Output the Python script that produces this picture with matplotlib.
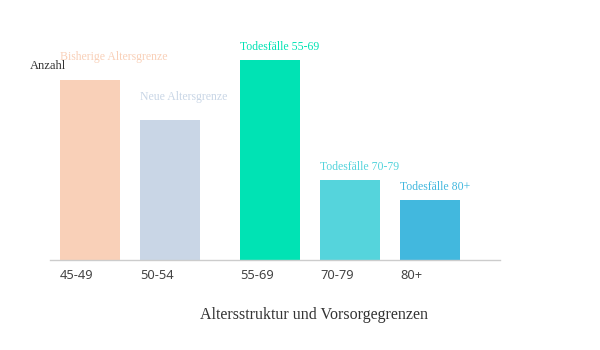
import matplotlib
matplotlib.use("Agg")
import matplotlib.pyplot as plt

# Data
categories = ["45-49", "50-54", "55-69", "70-79", "80+"]
values = [9, 7, 10, 4, 3]
bar_labels = ["Bisherige Altersgrenze", "Neue Altersgrenze",
              "Todesfälle 55-69", "Todesfälle 70-79", "Todesfälle 80+"]
bar_colors = ["#f9d0b8", "#c9d6e6", "#00e3b4", "#55d4dc", "#42b8de"]
label_offset_px = [23, 23, 13, 13, 13]

W, H, DPI = 600, 350, 100
fig = plt.figure(figsize=(W / DPI, H / DPI), dpi=DPI)
fig.patch.set_facecolor("white")

# axes: x from 50px to 500px, baseline at 260px, top at 60px
ax = fig.add_axes([50 / W, (H - 260) / H, 450 / W, 200 / H])
ax.set_facecolor("none")

# positions: extra gap between the two age-limit bars and the death-count bars
pos = [0, 1, 2.25, 3.25, 4.25]
width = 0.75

ax.bar(pos, values, width=width, color=bar_colors, linewidth=0)
ax.set_xlim(-0.5, 5.125)
ax.set_ylim(0, 10)

serif = ["Liberation Serif", "DejaVu Serif"]

for x, v, lab, c, off in zip(pos, values, bar_labels, bar_colors,
                             label_offset_px):
    ax.annotate(lab, xy=(x - width / 2, v), xytext=(0, off * 72 / DPI),
                textcoords="offset points", ha="left", va="center",
                fontsize=8.5, color=c, family=serif)

ax.set_xticks([p - width / 2 for p in pos])
ax.set_xticklabels(categories, ha="left", fontsize=9.3, color="#444444",
                   family=["Noto Sans", "DejaVu Sans"])
ax.tick_params(axis="x", length=0, pad=6.5)
ax.set_yticks([])

for s in ["top", "right", "left"]:
    ax.spines[s].set_visible(False)
ax.spines["bottom"].set_color("#cccccc")
ax.spines["bottom"].set_linewidth(1.0)

fig.text(30 / W, 1 - 66 / H, "Anzahl", ha="left", va="center",
         fontsize=9, color="#333333", family=serif)
fig.text(314 / W, 1 - 315 / H, "Altersstruktur und Vorsorgegrenzen",
         ha="center", va="center", fontsize=11.5, color="#333333", family=serif)

fig.savefig("out.png", dpi=DPI, facecolor="white")
